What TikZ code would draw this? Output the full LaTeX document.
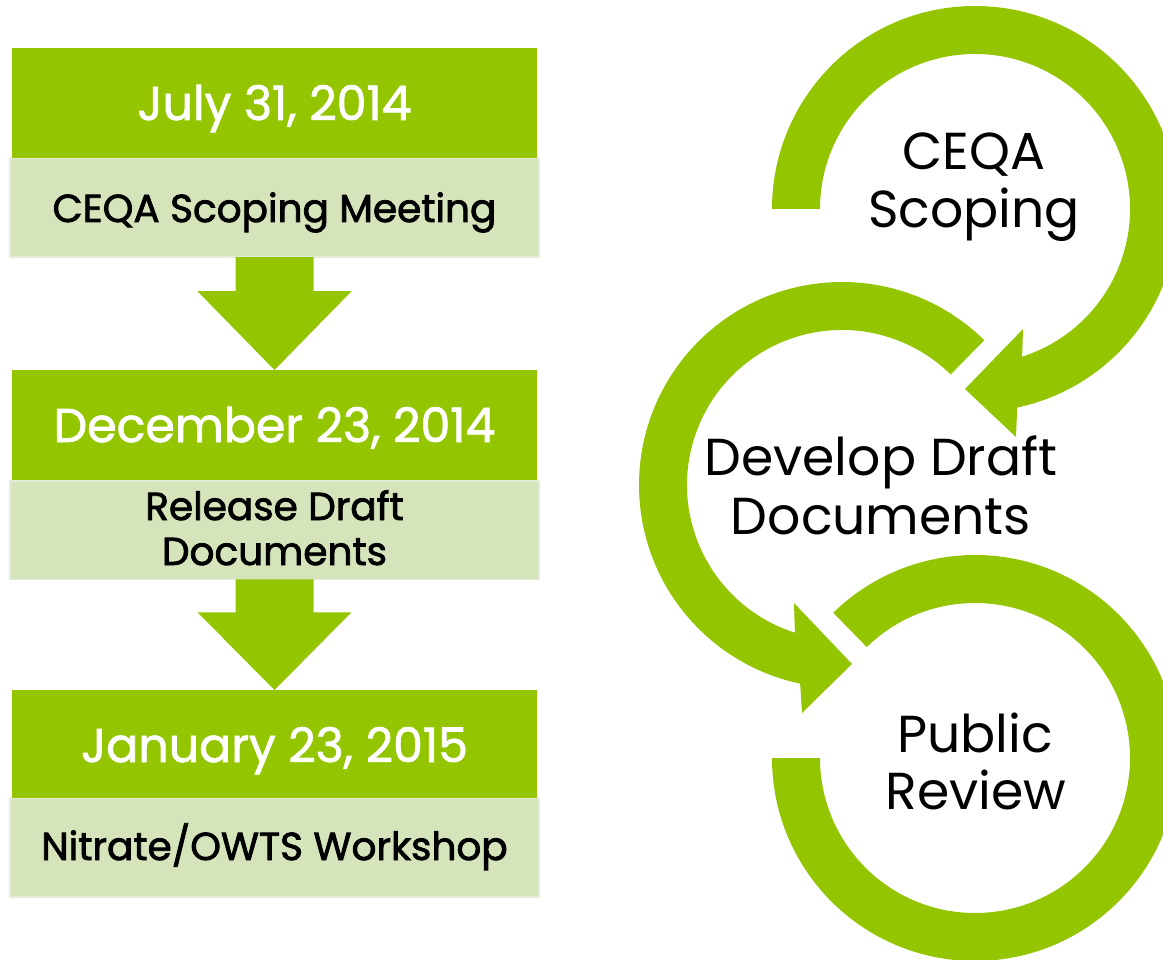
\documentclass[tikz,border=0pt]{standalone}
\usepackage{fontspec}
\setmainfont{Poppins}
\newfontfamily\popmed{Poppins}[FakeBold=1.6]
\newfontfamily\popsemi{Poppins}[FakeBold=2.0]
\usetikzlibrary{calc}
\definecolor{grn}{HTML}{93C600}
\definecolor{lgt}{HTML}{D5E4BB}
\definecolor{lgtb}{HTML}{E3ECD6}
\tikzset{
  datebox/.style={fill=grn, draw=none, minimum width=525pt, minimum height=110pt, inner sep=0pt, outer sep=0pt},
  descbox/.style={fill=lgt, draw=lgtb, line width=1.5pt, minimum width=529pt, minimum height=98.5pt, inner sep=0pt, outer sep=0pt},
  datetxt/.style={text=white, font=\popmed\fontsize{47.5}{52}\selectfont, anchor=base, inner sep=0pt},
  desctxt/.style={text=black, font=\popsemi\fontsize{39}{44}\selectfont, anchor=base, inner sep=0pt},
  ringtxt/.style={text=black, font=\fontsize{52}{58}\selectfont, anchor=base, inner sep=0pt},
  blockarrow/.style={fill=grn, draw=none},
  ringarrow/.style={fill=grn, draw=none}
}
\begin{document}
\begin{tikzpicture}[x=1pt, y=-1pt]
\useasboundingbox (0,0) rectangle (1163,960);
\clip (0,0) rectangle (1163,960);

% left column boxes
\node[datebox] (d1) at (274.5,103) {};
\node[descbox] (n1) at (274.5,208) {};
\node[datebox] (d2) at (274.5,425) {};
\node[descbox] (n2) at (274.5,530) {};
\node[datebox, minimum height=108pt] (d3) at (274.5,744) {};
\node[descbox] (n3) at (274.5,847.5) {};

% block arrows
\fill[blockarrow] ($(n1.south)+(-39,0)$) -- ($(n1.south)+(39,0)$) -- ($(n1.south)+(39,34)$)
  -- ($(n1.south)+(77,34)$) -- (d2.north) -- ($(n1.south)+(-77,34)$) -- ($(n1.south)+(-39,34)$) -- cycle;
\fill[blockarrow] ($(n2.south)+(-39,0)$) -- ($(n2.south)+(39,0)$) -- ($(n2.south)+(39,33)$)
  -- ($(n2.south)+(77,33)$) -- (d3.north) -- ($(n2.south)+(-77,33)$) -- ($(n2.south)+(-39,33)$) -- cycle;

% left texts
\node[datetxt] (t1) at (274.5,120) {July 31, 2014};
\node[desctxt] (s1) at (274.5,222) {CEQA Scoping Meeting};
\node[datetxt] (t2) at (274.5,442) {December 23, 2014};
\node[desctxt] (s2a) at (274.5,520) {Release Draft};
\node[desctxt] (s2b) at (274.5,565) {Documents};
\node[datetxt] (t3) at (274.5,762) {January 23, 2015};
\node[desctxt] (s3) at (274.5,860) {Nitrate/OWTS Workshop};

% circular arrows
\coordinate (c1) at (975,209);
\coordinate (c2) at (842,485);
\coordinate (c3) at (975,758);

\fill[ringarrow] ($(c3)+(180:203)$) arc[start angle=180, end angle=-134.3, radius=203]
  -- ($(c3)+(-134.3:155)$) arc[start angle=-134.3, end angle=180, radius=155] -- cycle;

\fill[ringarrow] ($(c2)+(-45.5:203)$) arc[start angle=-45.5, end angle=-258.1, radius=203]
  -- (802,713) -- (852,664) -- (794,603)
  -- ($(c2)+(-252.3:155)$) arc[start angle=-252.3, end angle=-45.5, radius=155] -- cycle;

\fill[ringarrow] ($(c1)+(180:203)$) arc[start angle=180, end angle=438, radius=203]
  -- (1016,437) -- (965,389) -- (1023,329)
  -- ($(c1)+(432.3:155)$) arc[start angle=432.3, end angle=180, radius=155] -- cycle;

% ring texts
\node[ringtxt] (r1a) at (974,170) {CEQA};
\node[ringtxt] (r1b) at (974,228) {Scoping};
\node[ringtxt] (r2a) at (881,475) {Develop Draft};
\node[ringtxt] (r2b) at (881,534) {Documents};
\node[ringtxt] (r3a) at (975,752) {Public};
\node[ringtxt] (r3b) at (976,809) {Review};
\end{tikzpicture}
\end{document}
